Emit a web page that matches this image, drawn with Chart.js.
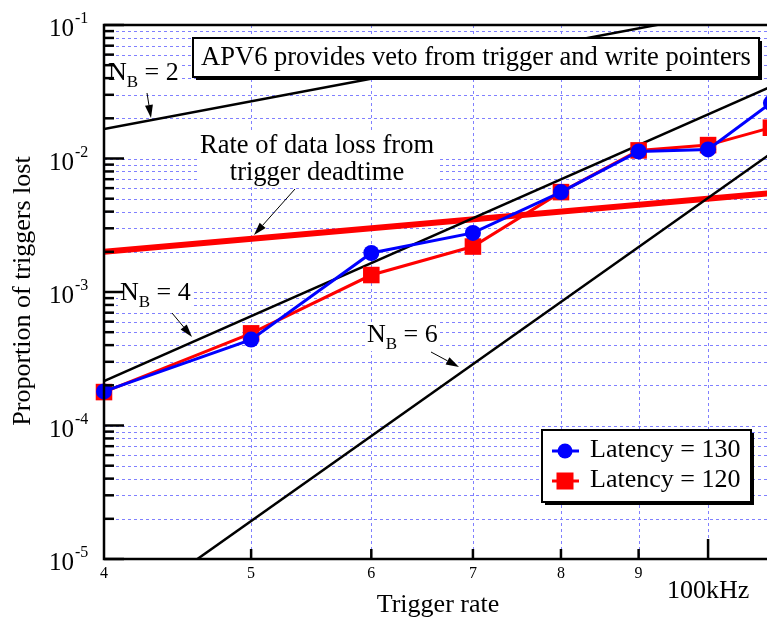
<!DOCTYPE html>
<html lang="en">
  <head>
    <meta charset="UTF-8" />
    <title>Proportion of triggers lost</title>
    <style>
      html, body {
        margin: 0;
        overflow: hidden;
        background: #fff;
      }
      canvas {
        display: block;
      }
    </style>
  </head>
  <body>
    <canvas id="myChart" width="767" height="619"></canvas>
  </body>
  <script src="https://cdn.jsdelivr.net/npm/chart.js"></script>
  <script>
    // measured points
    const rates = [4, 5, 6, 7, 8, 9, 10, 11];
    const lat130 = [1.8e-4, 4.4e-4, 1.96e-3, 2.77e-3, 5.6e-3, 1.13e-2, 1.17e-2, 2.6e-2];
    const lat120 = [1.78e-4, 4.9e-4, 1.34e-3, 2.19e-3, 5.6e-3, 1.15e-2, 1.26e-2, 1.7e-2];

    // model curves (straight in log-log), given at the ends of the range
    const modelRates = [4, 11];
    const nb2Loss = [1.66e-2, 1.45e-1];
    const nb4Loss = [2.15e-4, 3.45e-2];
    const nb6Loss = [3.2e-6, 1.09e-2];
    const deadtimeLoss = [2.0e-3, 5.5e-3];

    const xTickValues = [4, 5, 6, 7, 8, 9, 10];
    const xTickLabels = ['4', '5', '6', '7', '8', '9', '100kHz'];
    const yDecades = [-5, -4, -3, -2, -1];

    const serif = '"Liberation Serif", "Times New Roman", serif';
    const font = (px) => px + 'px ' + serif;
    const pts = (xs, ys) => xs.map((x, i) => ({ x: x, y: ys[i] }));

    function arrow(ctx, x1, y1, x2, y2) {
      const a = Math.atan2(y2 - y1, x2 - x1);
      const len = 13, hw = 4;
      ctx.save();
      ctx.strokeStyle = '#000';
      ctx.fillStyle = '#000';
      ctx.lineWidth = 1;
      ctx.beginPath();
      ctx.moveTo(x1, y1);
      ctx.lineTo(x2 - len * Math.cos(a), y2 - len * Math.sin(a));
      ctx.stroke();
      ctx.translate(x2, y2);
      ctx.rotate(a);
      ctx.beginPath();
      ctx.moveTo(0, 0);
      ctx.lineTo(-len, -hw);
      ctx.lineTo(-len, hw);
      ctx.closePath();
      ctx.fill();
      ctx.restore();
    }

    function shadowBox(ctx, x, y, w, h) {
      ctx.fillStyle = '#000';
      ctx.fillRect(x + 3, y + 3, w, h);
      ctx.fillStyle = '#fff';
      ctx.fillRect(x, y, w, h);
      ctx.strokeStyle = '#000';
      ctx.lineWidth = 2;
      ctx.strokeRect(x, y, w, h);
    }

    // "N_B = n" with a white patch behind it
    function nbLabel(ctx, x, y, n) {
      ctx.font = font(26);
      const wN = ctx.measureText('N').width;
      const wRest = ctx.measureText(' = ' + n).width;
      ctx.font = font(17);
      const wB = ctx.measureText('B').width;
      ctx.fillStyle = '#fff';
      ctx.fillRect(x - 2, y - 20, wN + wB + wRest + 4, 29);
      ctx.fillStyle = '#000';
      ctx.textAlign = 'left';
      ctx.textBaseline = 'alphabetic';
      ctx.font = font(26);
      ctx.fillText('N', x, y);
      ctx.font = font(17);
      ctx.fillText('B', x + wN, y + 7);
      ctx.font = font(26);
      ctx.fillText(' = ' + n, x + wN + wB, y);
    }

    const frame = {
      id: 'frame',
      beforeDatasetsDraw(chart) {
        const { ctx, chartArea: a, scales } = chart;
        ctx.save();
        ctx.strokeStyle = '#8080ff';
        ctx.lineWidth = 1;
        ctx.setLineDash([3, 3]);
        yDecades.forEach((d) => {
          for (let m = 1; m <= 9; m++) {
            const v = m * Math.pow(10, d);
            if (v > 0.1 + 1e-9) continue;
            const y = Math.round(scales.y.getPixelForValue(v)) + 0.5;
            ctx.beginPath();
            ctx.moveTo(a.left, y);
            ctx.lineTo(a.right, y);
            ctx.stroke();
          }
        });
        xTickValues.slice(1).forEach((v) => {
          const x = Math.round(scales.x.getPixelForValue(v)) + 0.5;
          ctx.beginPath();
          ctx.moveTo(x, a.top);
          ctx.lineTo(x, a.bottom);
          ctx.stroke();
        });
        ctx.restore();
      },
      afterDatasetsDraw(chart) {
        const { ctx, chartArea: a, scales } = chart;
        const X = (v) => scales.x.getPixelForValue(v);
        const Y = (v) => scales.y.getPixelForValue(v);
        ctx.save();

        // title box
        shadowBox(ctx, 193, 38, 566, 39);
        ctx.fillStyle = '#000';
        ctx.font = font(26.5);
        ctx.textAlign = 'center';
        ctx.textBaseline = 'alphabetic';
        ctx.fillText('APV6 provides veto from trigger and write pointers', 476, 65);

        // deadtime note
        ctx.fillStyle = '#fff';
        ctx.fillRect(199, 131, 238, 56);
        ctx.fillStyle = '#000';
        ctx.font = font(26.5);
        ctx.fillText('Rate of data loss from', 317, 153);
        ctx.fillText('trigger deadtime', 317, 180);
        arrow(ctx, 295, 189, 254, 235);

        nbLabel(ctx, 108, 80, 2);
        arrow(ctx, 147, 93, 151, 118);
        nbLabel(ctx, 120, 300, 4);
        arrow(ctx, 172, 313, 192, 337);
        nbLabel(ctx, 367, 342, 6);
        arrow(ctx, 431, 352, 459, 367);

        // legend
        shadowBox(ctx, 542, 430, 209, 72);
        const sets = chart.data.datasets.slice(0, 2);
        sets.forEach((ds, i) => {
          const cy = 451 + i * 30;
          ctx.strokeStyle = ds.borderColor;
          ctx.fillStyle = ds.backgroundColor;
          ctx.lineWidth = 3;
          ctx.beginPath();
          ctx.moveTo(552, cy);
          ctx.lineTo(579, cy);
          ctx.stroke();
          if (ds.pointStyle === 'rect') {
            ctx.fillRect(565 - 8.5, cy - 8.5, 17, 17);
          } else {
            ctx.beginPath();
            ctx.arc(565, cy, 7.5, 0, Math.PI * 2);
            ctx.fill();
          }
          ctx.fillStyle = '#000';
          ctx.font = font(26);
          ctx.textAlign = 'left';
          ctx.fillText(ds.label, 590, cy + 6);
        });

        // axes and ticks
        ctx.strokeStyle = '#000';
        ctx.lineWidth = 2.5;
        ctx.beginPath();
        ctx.moveTo(a.right, a.top);
        ctx.lineTo(a.left, a.top);
        ctx.lineTo(a.left, a.bottom);
        ctx.lineTo(a.right, a.bottom);
        ctx.stroke();
        yDecades.forEach((d) => {
          for (let m = 1; m <= 9; m++) {
            const v = m * Math.pow(10, d);
            if (v > 0.1 + 1e-9) continue;
            const y = Y(v);
            ctx.beginPath();
            ctx.moveTo(a.left, y);
            ctx.lineTo(a.left + (m === 1 ? 20 : 10), y);
            ctx.stroke();
          }
        });
        xTickValues.slice(1).forEach((v) => {
          const x = X(v);
          ctx.beginPath();
          ctx.moveTo(x, a.bottom);
          ctx.lineTo(x, a.bottom - (v === 10 ? 20 : 10));
          ctx.stroke();
        });

        // tick labels
        ctx.fillStyle = '#000';
        yDecades.forEach((d) => {
          const y = Y(Math.pow(10, d));
          ctx.font = font(25);
          ctx.textAlign = 'right';
          ctx.fillText('10', 74, y + 11);
          ctx.font = font(16);
          ctx.textAlign = 'left';
          ctx.fillText(String(d), 75, y - 2);
        });
        ctx.textAlign = 'center';
        xTickValues.forEach((v, i) => {
          if (v === 10) {
            ctx.font = font(26);
            ctx.fillText(xTickLabels[i], X(v), 598);
          } else {
            ctx.font = font(16);
            ctx.fillText(xTickLabels[i], X(v), 578);
          }
        });

        // axis titles
        ctx.font = font(26);
        ctx.fillText('Trigger rate', 438, 612);
        ctx.translate(30, 291);
        ctx.rotate(-Math.PI / 2);
        ctx.fillText('Proportion of triggers lost', 0, 0);
        ctx.restore();
      },
    };

    new Chart(document.getElementById('myChart'), {
      type: 'line',
      data: {
        datasets: [
          {
            label: 'Latency = 130',
            data: pts(rates, lat130),
            borderColor: '#0000ff',
            backgroundColor: '#0000ff',
            borderWidth: 3,
            pointStyle: 'circle',
            pointRadius: 8,
            pointBorderWidth: 0,
            clip: false,
          },
          {
            label: 'Latency = 120',
            data: pts(rates, lat120),
            borderColor: '#ff0000',
            backgroundColor: '#ff0000',
            borderWidth: 3,
            pointStyle: 'rect',
            pointRadius: 11.7,
            pointBorderWidth: 0,
            clip: false,
          },
          { label: 'NB2', data: pts(modelRates, nb2Loss), borderColor: '#000', borderWidth: 2.5, pointRadius: 0, clip: 0 },
          { label: 'NB4', data: pts(modelRates, nb4Loss), borderColor: '#000', borderWidth: 2.5, pointRadius: 0, clip: 0 },
          { label: 'NB6', data: pts(modelRates, nb6Loss), borderColor: '#000', borderWidth: 2.5, pointRadius: 0, clip: 0 },
          { label: 'deadtime', data: pts(modelRates, deadtimeLoss), borderColor: '#ff0000', borderWidth: 6, pointRadius: 0, clip: 0 },
        ],
      },
      options: {
        responsive: false,
        animation: false,
        events: [],
        layout: { autoPadding: false, padding: { left: 104, top: 25, right: 0, bottom: 60 } },
        scales: {
          x: { type: 'logarithmic', min: 4, max: 10.935, display: false },
          y: { type: 'logarithmic', min: 1e-5, max: 0.1, display: false },
        },
        plugins: { legend: { display: false }, tooltip: { enabled: false } },
      },
      plugins: [frame],
    });
  </script>
</html>
